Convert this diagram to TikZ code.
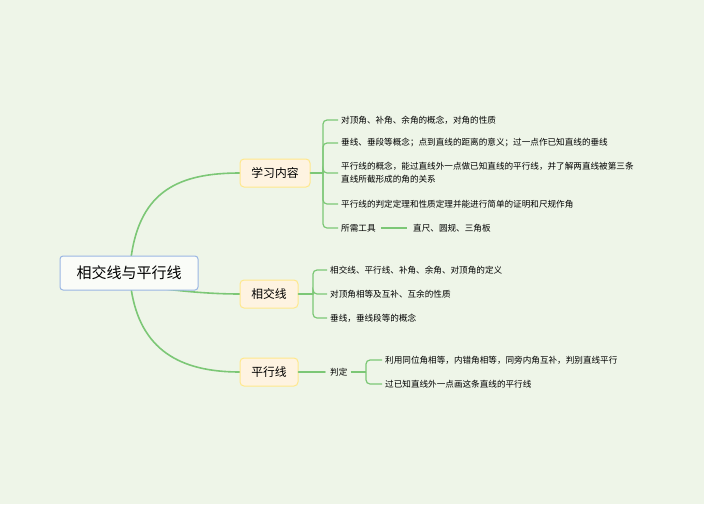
\documentclass[tikz,border=0pt]{standalone}
\usepackage{fontspec}
\setmainfont{Noto Sans CJK SC}
\definecolor{bgcol}{HTML}{EEF5E8}
\definecolor{lncol}{HTML}{7CC776}
\begin{document}
\begin{tikzpicture}[
        x=1pt, y=-1pt,
        root/.style={rectangle, draw=cyan!50!blue!40, fill=white!70!bgcol, line width=1pt, rounded corners=3pt, minimum width=138pt, minimum height=34pt, font=\fontsize{15}{17}\selectfont},
        topic/.style={rectangle, draw=orange!40!yellow!45, fill=yellow!15!orange!10, line width=1pt, rounded corners=4pt, minimum height=28pt, font=\fontsize{11.8}{13}\selectfont},
        leaf/.style={anchor=west, inner sep=0pt, font=\fontsize{8.6}{13}\selectfont, align=left},
        branch/.style={draw=lncol, line width=1.6pt, line cap=round},
        twig/.style={draw=lncol, line width=1.2pt, rounded corners=4pt}
    ]
        \fill[bgcol] (0,0) rectangle (704,504);
        \useasboundingbox (0,0) rectangle (704,504);

        % Curves from the root
        \draw[branch] (131,258) .. controls (140,190) and (180,173) .. (240,173);
        \draw[branch] (165,289) .. controls (190,292) and (215,294) .. (240,294);
        \draw[branch] (131,288) .. controls (140,350) and (180,372) .. (240,372);

        % Root and topics
        \node[root] (root) at (129,273) {相交线与平行线};
        \node[topic, minimum width=70pt] (study) at (275,173) {学习内容};
        \node[topic, minimum width=58pt] (cross) at (269,294) {相交线};
        \node[topic, minimum width=58pt] (para) at (269,372) {平行线};

        % Study contents
        \coordinate (sb) at (323,173);
        \draw[branch] (study.east) -- (sb);
        \node[leaf] (s1) at (341,120) {对顶角、补角、余角的概念，对角的性质};
        \node[leaf] (s2) at (341,143) {垂线、垂段等概念；点到直线的距离的意义；过一点作已知直线的垂线};
        \node[leaf] (s3) at (341,173) {平行线的概念，能过直线外一点做已知直线的平行线，并了解两直线被第三条\\直线所截形成的角的关系};
        \node[leaf] (s4) at (341,204) {平行线的判定定理和性质定理并能进行简单的证明和尺规作角};
        \node[leaf] (s5) at (341,228) {所需工具};
        \node[leaf] (s6) at (413,228) {直尺、圆规、三角板};
        \foreach \n in {s1,s2,s3,s4,s5}
            \draw[twig] (sb) |- ([xshift=-3pt]\n.west);
        \draw[twig] ([xshift=5pt]s5.east) -- ([xshift=-6pt]s6.west);

        % Intersecting lines
        \coordinate (cb) at (313,294);
        \draw[branch] (cross.east) -- (cb);
        \node[leaf] (c1) at (330,270) {相交线、平行线、补角、余角、对顶角的定义};
        \node[leaf] (c2) at (330,294) {对顶角相等及互补、互余的性质};
        \node[leaf] (c3) at (330,318) {垂线，垂线段等的概念};
        \foreach \n in {c1,c2,c3}
            \draw[twig] (cb) |- ([xshift=-3pt]\n.west);

        % Parallel lines
        \node[leaf] (judge) at (330,372) {判定};
        \draw[branch] (para.east) -- ([xshift=-5pt]judge.west);
        \coordinate (pb) at (366,372);
        \draw[twig] ([xshift=3pt]judge.east) -- (pb);
        \node[leaf] (p1) at (385,360) {利用同位角相等，内错角相等，同旁内角互补，判别直线平行};
        \node[leaf] (p2) at (385,384) {过已知直线外一点画这条直线的平行线};
        \foreach \n in {p1,p2}
            \draw[twig] (pb) |- ([xshift=-3pt]\n.west);
\end{tikzpicture}
\end{document}
